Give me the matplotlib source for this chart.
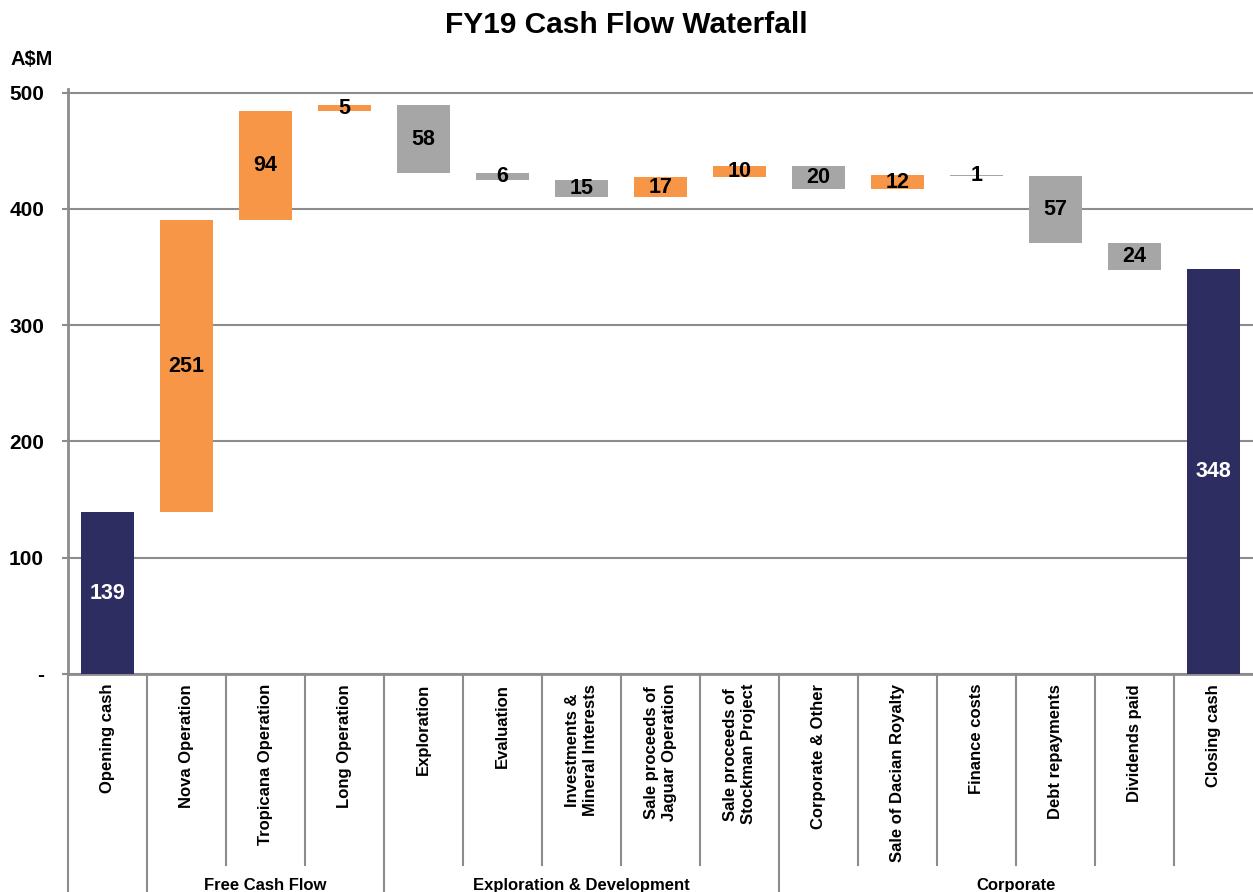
import numpy as np
import matplotlib.pyplot as plt
import matplotlib.transforms as mtransforms

plt.rcParams['font.family'] = ['Liberation Sans', 'DejaVu Sans']
plt.rcParams['font.weight'] = 'bold'

# dados do gráfico
categorias = ["Opening cash", "Nova Operation", "Tropicana Operation", "Long Operation",
              "Exploration", "Evaluation", "Investments &\nMineral Interests",
              "Sale proceeds of\nJaguar Operation", "Sale proceeds of\nStockman Project",
              "Corporate & Other", "Sale of Dacian Royalty", "Finance costs",
              "Debt repayments", "Dividends paid", "Closing cash"]
valores = [139, 251, 94, 5, -58, -6, -15, 17, 10, -20, 12, -1, -57, -24, 348]
totais = [True] + [False] * 13 + [True]
grupos = ["Free Cash Flow", "Exploration & Development", "Corporate"]
grupo_inicio = [1, 4, 9]
grupo_fim = [4, 9, 15]

cor_pos = "#F79646"
cor_neg = "#A6A6A6"
cor_total = "#2E2D62"
cor_linha = "#8C8C8C"

# calcula bases do waterfall
bases = []
alturas = []
acumulado = 0
for v, t in zip(valores, totais):
    if t:
        bases.append(0)
        alturas.append(v)
        acumulado = v
    else:
        bases.append(acumulado if v >= 0 else acumulado + v)
        alturas.append(abs(v))
        acumulado += v

cores = [cor_total if t else (cor_pos if v >= 0 else cor_neg) for v, t in zip(valores, totais)]

fig = plt.figure(figsize=(12.53, 8.92), dpi=100)
ax = fig.add_axes([0.0543, 0.2444, 0.9457, 0.6558])

x = np.arange(len(categorias))
ax.bar(x, alturas, bottom=bases, width=0.66, color=cores, zorder=3)

for xi, b, h, v, t in zip(x, bases, alturas, valores, totais):
    ax.text(xi, b + h / 2, str(abs(v)), ha="center", va="center",
            fontsize=15.5, fontweight="bold", color="white" if t else "black", zorder=4)

ax.set_xlim(-0.5, len(categorias) - 0.5)
ax.set_ylim(0, 503)
ax.set_yticks([0, 100, 200, 300, 400, 500])
ax.set_yticklabels(["-", "100", "200", "300", "400", "500"])
ax.grid(axis="y", color=cor_linha, linewidth=1.5, zorder=0)
ax.tick_params(axis="y", length=4.3, width=1.5, color=cor_linha, labelsize=15, pad=13)
ax.tick_params(axis="x", length=0, labelbottom=False)
for lado in ["top", "right"]:
    ax.spines[lado].set_visible(False)
ax.spines["left"].set_color(cor_linha)
ax.spines["left"].set_linewidth(2)
ax.spines["bottom"].set_color(cor_linha)
ax.spines["bottom"].set_linewidth(2)

# rótulos das categorias e divisórias
trans = mtransforms.blended_transform_factory(ax.transData, ax.transAxes)
for xi, nome in zip(x, categorias):
    ax.text(xi, -0.017, nome, transform=trans, rotation=90, ha="center", va="top",
            fontsize=12, fontweight="bold", linespacing=1.25, clip_on=False)

limites_grupo = [-0.5, 0.5] + [f - 0.5 for f in grupo_fim]
for i in range(len(categorias)):
    pos = i - 0.5
    fundo = -0.375 if pos in limites_grupo else -0.327
    ax.plot([pos, pos], [0, fundo], transform=trans, color=cor_linha,
            linewidth=1.5, clip_on=False)

for nome, ini, fim in zip(grupos, grupo_inicio, grupo_fim):
    ax.text((ini + fim - 1) / 2, -0.362, nome, transform=trans, ha="center", va="center",
            fontsize=12, fontweight="bold", clip_on=False)

fig.text(0.5, 0.972, "FY19 Cash Flow Waterfall", ha="center", va="center",
         fontsize=21.5, fontweight="bold")
fig.text(0.008, 0.933, "A$M", ha="left", va="center", fontsize=14.5, fontweight="bold")

fig.savefig("out.png", dpi=100)
